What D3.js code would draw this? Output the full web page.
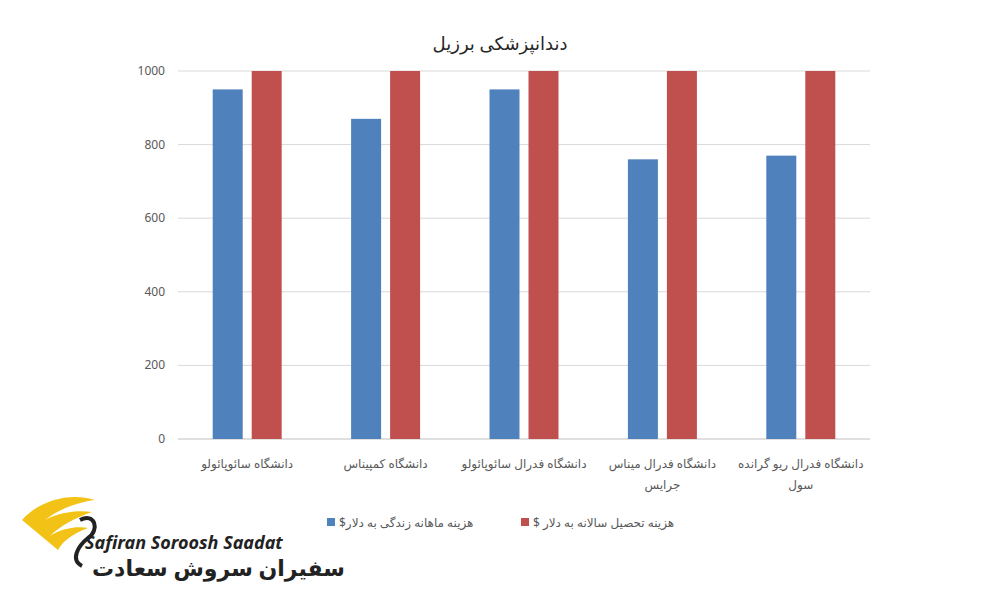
<!DOCTYPE html>
<html><head><meta charset="utf-8">
<script src="https://d3js.org/d3.v7.min.js"></script>
<style>body{margin:0;background:#fff}</style>
</head><body><svg id="c" width="1000" height="600"></svg>
<script>
const title = "دندانپزشکی برزیل";
const categories = [["دانشگاه سائوپائولو"],["دانشگاه کمپیناس"],["دانشگاه فدرال سائوپائولو"],["دانشگاه فدرال میناس","جرایس"],["دانشگاه فدرال ریو گرانده","سول"]];
const seriesNames = ["هزینه ماهانه زندگی به دلار$","هزینه تحصیل سالانه به دلار $"];
const livingCost = [950,870,950,760,770];
const tuition = [1000,1000,1000,1000,1000];
const yTicks = [0,200,400,600,800,1000];
const colors = ["#4f81bd","#c0504d"];

const svg = d3.select("#c");
const font = "'Noto Sans', 'DejaVu Sans', sans-serif";
const x = d3.scaleBand().domain(d3.range(categories.length)).range([178,870]);
const y = d3.scaleLinear().domain([0,1000]).range([439,71]);

svg.append("g").selectAll("line").data(yTicks).join("line")
  .attr("x1",178).attr("x2",870).attr("y1",d=>y(d)).attr("y2",d=>y(d))
  .attr("stroke",d=>d===0?"#bfbfbf":"#d9d9d9").attr("stroke-width",1);
svg.append("g").selectAll("text").data(yTicks).join("text")
  .attr("x",165).attr("y",d=>y(d)+4).attr("text-anchor","end")
  .attr("font-family",font).attr("font-size",12).attr("fill","#595959").text(d=>d);

const bw = 30, gap = 9;
[livingCost,tuition].forEach((s,si)=>{
  svg.append("g").selectAll("rect").data(s).join("rect")
    .attr("x",(d,i)=>x(i)+x.bandwidth()/2 - bw - gap/2 + si*(bw+gap))
    .attr("y",d=>y(d)).attr("width",bw).attr("height",d=>y(0)-y(d))
    .attr("fill",colors[si]);
});

categories.forEach((lines,i)=>{
  const t = svg.append("text").attr("text-anchor","middle").attr("font-family",font)
    .attr("font-size",12).attr("fill","#595959").attr("direction","rtl");
  lines.forEach((l,k)=>t.append("tspan").attr("x",x(i)+x.bandwidth()/2).attr("y",468+k*21).text(l));
});

svg.append("text").attr("x",500).attr("y",50).attr("text-anchor","middle")
  .attr("font-family",font).attr("font-size",18).attr("fill","#262626").attr("direction","rtl").text(title);

const legX = [327,521];
seriesNames.forEach((n,i)=>{
  svg.append("rect").attr("x",legX[i]).attr("y",518).attr("width",8).attr("height",8).attr("fill",colors[i]);
  svg.append("text").attr("x",legX[i]+12).attr("y",527).attr("text-anchor","end").attr("direction","rtl")
    .attr("font-family",font).attr("font-size",12).attr("fill","#595959").text(n);
});

// logo
const lg = svg.append("g");
lg.append("path").attr("d","M22,520 C40,500 70,492 95,500 C80,502 60,508 45,520 C60,512 78,510 92,512 C75,518 60,526 50,536 C62,528 78,526 88,528 C72,534 62,542 58,550 Z").attr("fill","#f2c316");
lg.append("path").attr("d","M80,520 C95,512 100,530 88,538 C78,546 70,560 82,566").attr("fill","none").attr("stroke","#222").attr("stroke-width",4);
lg.append("text").attr("x",85).attr("y",549).attr("font-family",font).attr("font-style","italic").attr("font-weight","bold").attr("font-size",18).attr("fill","#222").text("Safiran Soroosh Saadat");
lg.append("text").attr("x",92).attr("y",576).attr("text-anchor","end").attr("direction","rtl").attr("font-family",font).attr("font-weight","bold").attr("font-size",22).attr("fill","#222").text("سفیران سروش سعادت");
</script></body></html>
